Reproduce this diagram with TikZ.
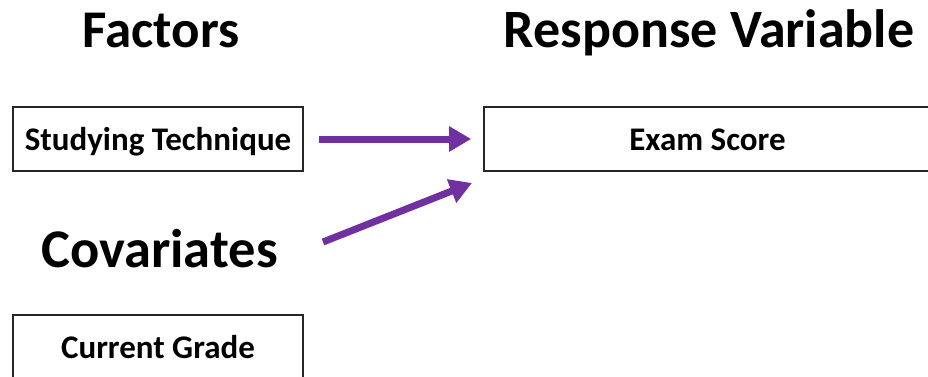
\documentclass[tikz,border=0pt]{standalone}
\usepackage{fontspec}
\setmainfont{Carlito}
\usetikzlibrary{arrows.meta}
\definecolor{arrowpurple}{RGB}{112,48,160}
\begin{document}
\begin{tikzpicture}[x=1pt,y=-1pt,
  title/.style={font=\bfseries\fontsize{#1}{#1}\selectfont, inner sep=0pt, anchor=base},
  box/.style={draw=black!85, line width=1.6pt, minimum width=290pt, minimum height=64pt, inner sep=0pt, text height=22pt, text depth=0pt, font=\bfseries\fontsize{33}{33}\selectfont},
  conn/.style={draw=arrowpurple, line width=7pt, -{Triangle[length=22pt,width=24pt]}}]
\useasboundingbox (0,0) rectangle (928,376);
\clip (0,0) rectangle (928,376);
\fill[white] (0,0) rectangle (928,376);
\node[title=53] (factors) at (161,47) {Factors};
\node[title=54] (resp) at (709,47) {Response Variable};
\node[title=54.5] (cov) at (159.5,267) {Covariates};
\node[box] (study) at (158,139) {Studying Technique};
\node[box, minimum width=447pt] (exam) at (707.5,139) {Exam Score};
\node[box] (grade) at (158,347) {Current Grade};
\coordinate (c2s) at (323,242);
\coordinate (c2e) at (472,183);
\draw[conn, shorten <=15pt, shorten >=12pt] (study.east) -- (exam.west);
\draw[conn] (c2s) -- (c2e);
\end{tikzpicture}
\end{document}
